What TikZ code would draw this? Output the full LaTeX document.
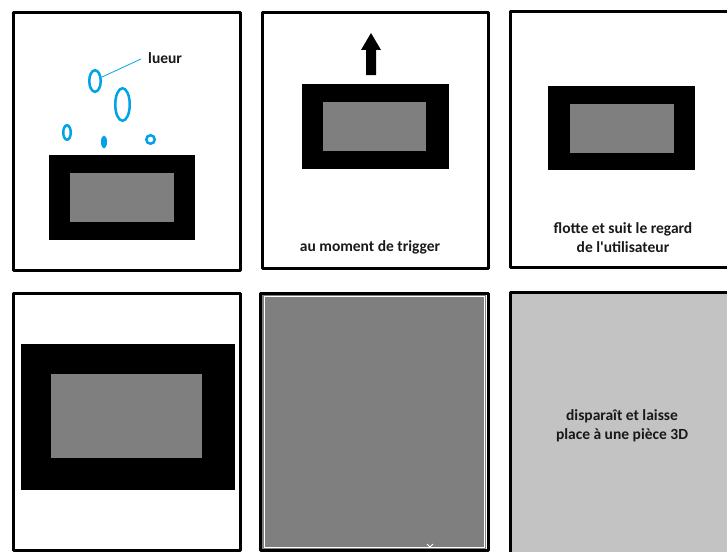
\documentclass[tikz,border=0pt]{standalone}
\usepackage{xcolor}
\usepackage{fontspec}
\setmainfont{Carlito}[Ligatures=TeXOff]
\usetikzlibrary{shapes.geometric}
\definecolor{paintblue}{HTML}{00A2E8}
\definecolor{screengray}{HTML}{7F7F7F}
\definecolor{lightgray}{HTML}{C3C3C3}

\tikzset{
  panel/.style={draw=black, line width=3pt, line join=round},
  screen/.style={fill=black, inner sep=0pt},
  glass/.style={fill=screengray, inner sep=0pt},
  bubble/.style={ellipse, draw=paintblue, line width=2.5pt, inner sep=0pt},
  caption/.style={font=\bfseries\fontsize{15.5}{19}\selectfont, align=center, text=black!90}
}

\begin{document}
\begin{tikzpicture}[x=1pt, y=-1pt]
  \useasboundingbox (0,0) rectangle (727,551);
  \clip (0,0) rectangle (727,551);

  % fonds
  \fill[screengray] (262,294) rectangle (486,549);
  \draw[white, line width=0.8pt] (264,296) rectangle (484,547);
  \draw[white, line width=1pt] (427,544) -- (430,547) -- (433,544);
  \fill[lightgray] (510,292) rectangle (740,560);

  % cadres
  \draw[panel] (13,13) rectangle (240,270);
  \draw[panel] (262,13) rectangle (488,268);
  \draw[panel] (740,12) -- (510,12) -- (510,267) -- (740,267);
  \draw[panel] (13,293) rectangle (240,550);
  \draw[panel] (260,293) rectangle (488,550);
  \draw[panel] (740,292) -- (510,292) -- (510,560);

  % ecrans
  \node[screen, minimum width=146pt, minimum height=85pt] (ecranA) at (122,197.5) {};
  \node[glass, minimum width=104pt, minimum height=49pt] at (ecranA) {};
  \node[screen, minimum width=147pt, minimum height=85pt] (ecranB) at (375.5,126.5) {};
  \node[glass, minimum width=103pt, minimum height=49pt] at ([xshift=-1pt]ecranB.center) {};
  \node[screen, minimum width=147pt, minimum height=84pt] (ecranC) at (621.5,128) {};
  \node[glass, minimum width=104pt, minimum height=49pt] at (ecranC) {};
  \node[screen, minimum width=214pt, minimum height=146pt] (ecranD) at (128,417) {};
  \node[glass, minimum width=151pt, minimum height=84pt] at ([xshift=-1.5pt, yshift=1pt]ecranD.center) {};

  % lueur
  \node[bubble, minimum width=11.5pt, minimum height=21.5pt] (bulle1) at (95,81) {};
  \node[bubble, minimum width=14.5pt, minimum height=32.5pt] (bulle2) at (122.5,104.5) {};
  \node[bubble, minimum width=7.5pt, minimum height=14.5pt] (bulle3) at (67,132.5) {};
  \node[ellipse, fill=paintblue, inner sep=0pt, minimum width=6pt, minimum height=13pt] (bulle4) at (104,142) {};
  \node[bubble, minimum width=8.5pt, minimum height=8.5pt] (bulle5) at (150.5,139.5) {};
  \node[caption, anchor=west, inner sep=0pt] (lueur) at (148,58) {lueur};
  \draw[paintblue, line width=0.8pt] (bulle1.30) -- ([xshift=-7pt, yshift=-1pt]lueur.west);

  % fleche
  \fill[black] (366,75) -- (366,50) -- (361,50) -- (371,33) -- (381,50) -- (376,50) -- (376,75) -- cycle;

  % textes
  \node[caption] (trigger) at (370,247) {au moment de trigger};
  \node[caption] (regard) at (623,238) {flotte et suit le regard\\de l'utilisateur};
  \node[caption] (piece) at (622,426) {disparaît et laisse\\place à une pièce 3D};
\end{tikzpicture}
\end{document}
